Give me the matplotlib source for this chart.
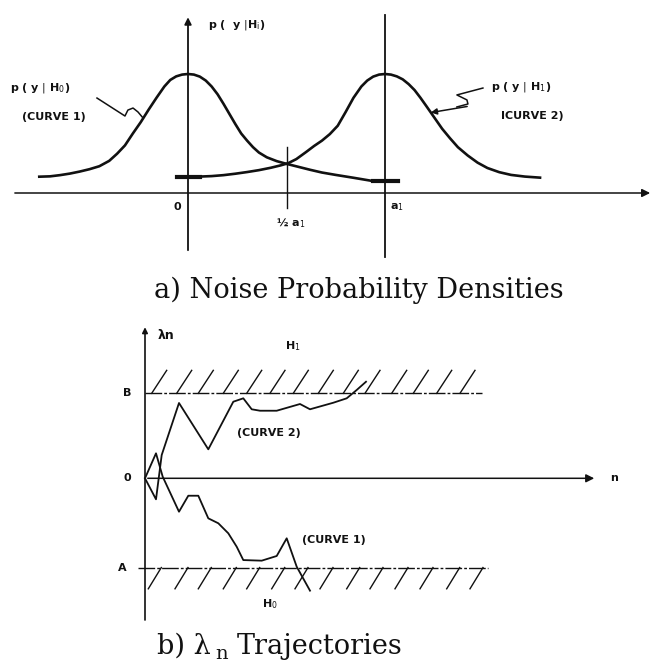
import numpy as np
import matplotlib
matplotlib.use("Agg")
import matplotlib.pyplot as plt

# --- a) noise probability densities (x in units of a1, y relative to peak) ---
curve1_x = [-0.755, -0.70, -0.65, -0.60, -0.55, -0.50, -0.45, -0.40, -0.36, -0.32,
            -0.28, -0.24, -0.20, -0.16, -0.12, -0.09, -0.06, -0.03, 0.0, 0.03,
            0.06, 0.09, 0.12, 0.15, 0.18, 0.21, 0.24, 0.27, 0.30, 0.33,
            0.36, 0.40, 0.45, 0.50, 0.56, 0.62, 0.68, 0.75, 0.84, 0.94, 1.066]
curve1_y = [0.137, 0.140, 0.150, 0.163, 0.180, 0.200, 0.225, 0.270, 0.330, 0.400,
            0.500, 0.595, 0.700, 0.800, 0.895, 0.950, 0.980, 0.995, 1.0, 0.995,
            0.978, 0.945, 0.895, 0.830, 0.750, 0.665, 0.580, 0.500, 0.440, 0.385,
            0.340, 0.300, 0.268, 0.245, 0.220, 0.195, 0.172, 0.152, 0.128, 0.100, 0.095]

curve2_x = [-0.057, 0.0, 0.06, 0.12, 0.18, 0.24, 0.30, 0.36, 0.42, 0.47,
            0.508, 0.55, 0.60, 0.64, 0.68, 0.72, 0.76, 0.80, 0.84, 0.88,
            0.91, 0.94, 0.97, 1.0, 1.03, 1.06, 1.09, 1.12, 1.15, 1.18,
            1.21, 1.25, 1.29, 1.33, 1.37, 1.42, 1.47, 1.52, 1.58, 1.64, 1.71, 1.787]
curve2_y = [0.137, 0.137, 0.138, 0.142, 0.150, 0.162, 0.176, 0.192, 0.212, 0.232,
            0.250, 0.285, 0.345, 0.395, 0.440, 0.495, 0.565, 0.680, 0.800, 0.895,
            0.945, 0.978, 0.995, 1.0, 0.995, 0.980, 0.955, 0.915, 0.865, 0.800,
            0.730, 0.635, 0.540, 0.460, 0.385, 0.315, 0.255, 0.210, 0.175, 0.152,
            0.138, 0.129]

# --- b) lambda_n trajectories (x in steps, y in threshold units) ---
B_LEVEL = 1.0
A_LEVEL = -1.05
traj2_n = [0, 1.1, 1.67, 3.4, 6.33, 8.83, 9.83, 10.67, 11.5, 13.17, 15.5, 16.5,
           18.83, 20.17, 21.17, 22.1]
traj2_l = [0, -0.247, 0.274, 0.886, 0.341, 0.901, 0.941, 0.812, 0.795, 0.795,
           0.874, 0.812, 0.889, 0.941, 1.039, 1.136]
traj1_n = [0, 1.1, 1.77, 3.4, 4.33, 5.33, 6.33, 7.33, 8.33, 9.17, 9.83, 11.67,
           13.17, 14.17, 15.17, 16.5]
traj1_l = [0, 0.294, 0.019, -0.393, -0.205, -0.205, -0.471, -0.529, -0.647, -0.805,
           -0.962, -0.969, -0.914, -0.706, -1.04, -1.322]

hatch_top = [0.67, 3.17, 5.33, 7.83, 10.17, 12.5, 14.83, 17.33, 19.83, 22.0,
             24.67, 26.83, 29.17, 31.5]
hatch_bot = [0.33, 3.0, 5.33, 7.83, 10.17, 12.67, 15.0, 17.5, 20.17, 22.5,
             25.0, 27.5, 30.17, 32.5]

fig = plt.figure(figsize=(6.67, 6.67), dpi=100)
ink = "#111111"
lab = dict(fontsize=8, color=ink, fontweight="bold", family="DejaVu Sans")
cap = dict(fontsize=19.5, color=ink, family="DejaVu Serif")

# top panel, spans the upper 300 px
ax1 = fig.add_axes([0, 1 - 300 / 667, 1, 300 / 667])
ax1.set_xlim(-188 / 197, (667 - 188) / 197)
ax1.set_ylim((193 - 300) / 119, 193 / 119)
ax1.axis("off")

ax1.plot(curve1_x, curve1_y, color=ink, lw=1.9, solid_joinstyle="round")
ax1.plot(curve2_x, curve2_y, color=ink, lw=1.9, solid_joinstyle="round")
ax1.plot([0.94, 1.066], [0.097, 0.097], color=ink, lw=3)
ax1.plot([-0.057, 0.06], [0.137, 0.137], color=ink, lw=3)

# axes of the densities
ax1.annotate("", xy=(2.36, 0), xytext=(-0.893, 0),
             arrowprops=dict(arrowstyle="-|>", color=ink, lw=1.1, mutation_scale=12))
ax1.annotate("", xy=(0, 1.50), xytext=(0, -0.504),
             arrowprops=dict(arrowstyle="-|>", color=ink, lw=1.3, mutation_scale=10))
ax1.plot([1, 1], [-0.538, 1.50], color=ink, lw=1.3)
ax1.plot([0.5, 0.5], [-0.126, 0.387], color=ink, lw=1.0)

ax1.text(0.1, 1.41, r"p (  y $|$H$_{\rm i}$)", ha="left", va="center", **lab)
ax1.text(-0.055, -0.12, "0", ha="center", va="center", **lab)
ax1.text(0.52, -0.25, r"½ a$_1$", ha="center", va="center", **lab)
ax1.text(1.06, -0.12, r"a$_1$", ha="center", va="center", **lab)

ax1.text(-0.905, 0.88, r"p ( y $|$ H$_0$)", ha="left", va="center", **lab)
ax1.text(-0.845, 0.64, "(CURVE 1)", ha="left", va="center", **lab)
ax1.text(1.54, 0.89, r"p ( y $|$ H$_1$)", ha="left", va="center", **lab)
ax1.text(1.59, 0.65, "ICURVE 2)", ha="left", va="center", **lab)

# leader for curve 1: straight run ending in a small hook
ax1.plot([-0.462, -0.320, -0.305, -0.279, -0.254, -0.228],
         [0.798, 0.647, 0.697, 0.714, 0.681, 0.630], color=ink, lw=1.1)
# leader for curve 2: S bend then arrow onto the curve
ax1.plot([1.497, 1.365, 1.416, 1.421, 1.365], [0.882, 0.824, 0.782, 0.748, 0.723],
         color=ink, lw=1.1)
ax1.annotate("", xy=(1.218, 0.672), xytext=(1.431, 0.731),
             arrowprops=dict(arrowstyle="-|>", color=ink, lw=1.1, mutation_scale=9))

fig.text(359 / 667, 1 - 290 / 667, "a) Noise Probability Densities", ha="center",
         va="center", **cap)

# bottom panel, spans pixels 300..667
ax2 = fig.add_axes([0, 0, 1, 367 / 667])
ax2.set_xlim(-14.5, (667 - 145) / 10)
ax2.set_ylim((478.3 - 667) / 85, (478.3 - 300) / 85)
ax2.axis("off")

ax2.annotate("", xy=(0, 1.81), xytext=(0, -1.70),
             arrowprops=dict(arrowstyle="-|>", color=ink, lw=1.2, mutation_scale=8))
ax2.annotate("", xy=(45.2, 0), xytext=(0, 0),
             arrowprops=dict(arrowstyle="-|>", color=ink, lw=1.1, mutation_scale=12))
ax2.plot([0, 33.7], [B_LEVEL, B_LEVEL], color=ink, lw=1.0, ls=(0, (12, 1.5, 2, 1.5)))
ax2.plot([-0.7, 34.3], [A_LEVEL, A_LEVEL], color=ink, lw=1.0, ls=(0, (12, 1.5, 2, 1.5)))

for x0 in hatch_top:
    ax2.plot([x0, x0 + 1.5], [B_LEVEL, B_LEVEL + 0.27], color=ink, lw=1.0)
for x0 in hatch_bot:
    ax2.plot([x0, x0 + 1.3], [A_LEVEL - 0.25, A_LEVEL], color=ink, lw=1.0)

ax2.plot(traj2_n, traj2_l, color=ink, lw=1.3)
ax2.plot(traj1_n, traj1_l, color=ink, lw=1.3)

ax2.text(1.3, 1.68, "λn", ha="left", va="center", fontsize=9,
         color=ink, fontweight="bold", family="DejaVu Sans")
ax2.text(14.8, 1.56, r"H$_1$", ha="center", va="center", **lab)
ax2.text(12.5, -1.48, r"H$_0$", ha="center", va="center", **lab)
ax2.text(-1.4, B_LEVEL, "B", ha="right", va="center", **lab)
ax2.text(-1.4, 0, "0", ha="right", va="center", **lab)
ax2.text(-1.8, A_LEVEL, "A", ha="right", va="center", **lab)
ax2.text(46.9, 0, "n", ha="center", va="center", **lab)
ax2.text(9.2, 0.53, "(CURVE 2)", ha="left", va="center", **lab)
ax2.text(15.7, -0.73, "(CURVE 1)", ha="left", va="center", **lab)

fig.text(157 / 667, 1 - 646 / 667, "b) λ", ha="left", va="center", **cap)
fig.text(215 / 667, 1 - 659 / 667, "n", ha="left", va="baseline",
         fontsize=14, color=ink, family="DejaVu Serif")
fig.text(237 / 667, 1 - 646 / 667, "Trajectories", ha="left", va="center", **cap)

fig.savefig("out.png", dpi=100, facecolor="white")
